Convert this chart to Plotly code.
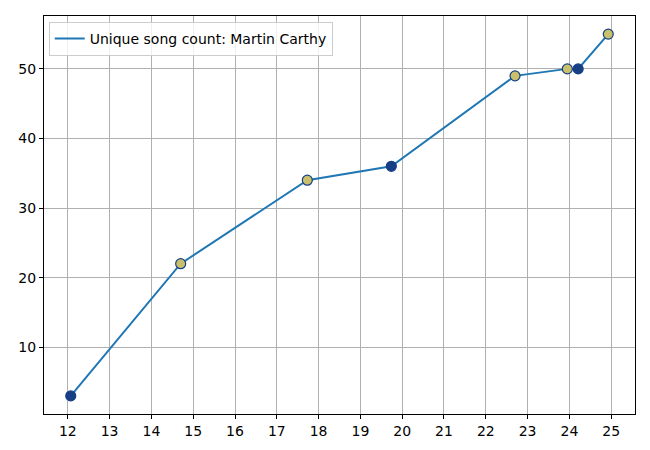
import plotly.graph_objects as go

x_vals = [12.07, 14.70, 17.73, 19.74, 22.70, 23.95, 24.21, 24.93]
y_vals = [3, 22, 34, 36, 49, 50, 50, 55]
point_colors = ["#173f86", "#c9c06b", "#c9c06b", "#173f86", "#c9c06b", "#c9c06b", "#173f86", "#c9c06b"]
series_name = "Unique song count: Martin Carthy"
x_ticks = list(range(12, 26))
y_ticks = [10, 20, 30, 40, 50]

fig = go.Figure()
fig.add_trace(go.Scatter(x=x_vals, y=y_vals, mode="lines", name=series_name,
                         line=dict(color="#1f77b4", width=2)))
fig.add_trace(go.Scatter(x=x_vals, y=y_vals, mode="markers", showlegend=False,
                         marker=dict(color=point_colors, size=10,
                                     line=dict(color="#173f86", width=1.2))))

axis_common = dict(showline=True, linecolor="black", linewidth=1, mirror=True,
                   showgrid=True, gridcolor="#b0b0b0", gridwidth=1,
                   ticks="outside", ticklen=4, tickcolor="black", automargin=False,
                   tickfont=dict(size=14, color="black"), zeroline=False)
fig.update_xaxes(range=[11.43, 25.57], tickvals=x_ticks, **axis_common)
fig.update_yaxes(range=[0.4, 57.6], tickvals=y_ticks, **axis_common)

fig.update_layout(width=650, height=450, plot_bgcolor="white", paper_bgcolor="white",
                  font=dict(family="DejaVu Sans", size=14, color="black"),
                  margin=dict(l=36, r=23, t=8, b=44),
                  legend=dict(x=0.008, y=0.985, xanchor="left", yanchor="top",
                              bgcolor="rgba(255,255,255,0.8)", bordercolor="#cccccc",
                              borderwidth=1, font=dict(size=14)))
fig.write_html("out.html")
